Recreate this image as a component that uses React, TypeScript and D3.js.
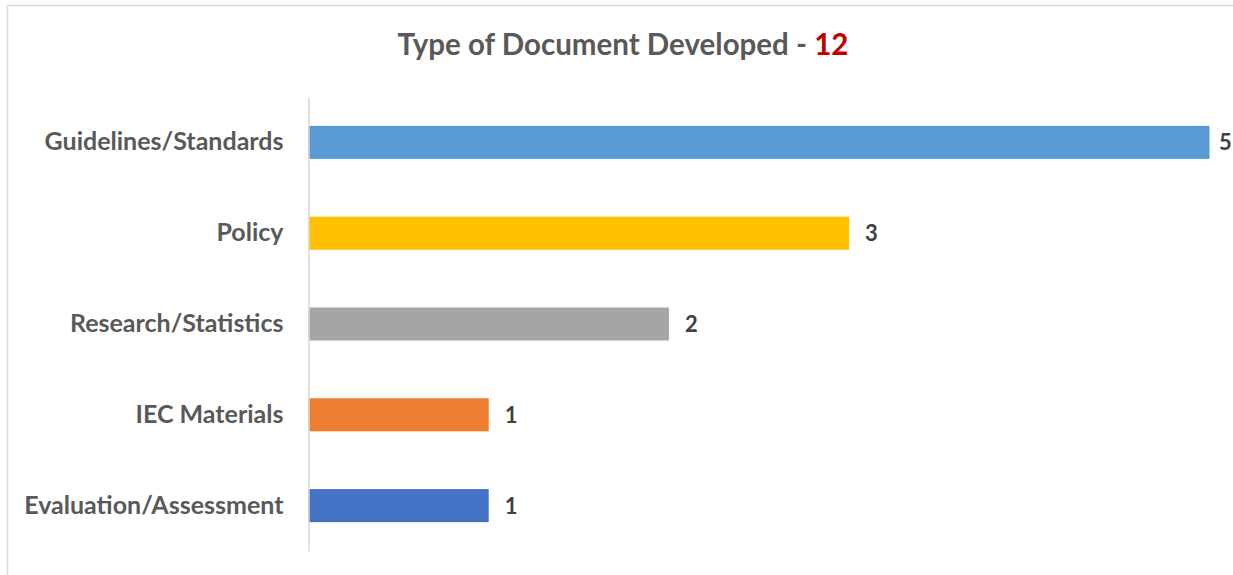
import React, { useEffect, useRef } from 'react';
import * as d3 from 'd3';

const categories = ['Guidelines/Standards', 'Policy', 'Research/Statistics', 'IEC Materials', 'Evaluation/Assessment'];
const counts = [5, 3, 2, 1, 1];
const barColors = ['#5B9BD5', '#FFC000', '#A5A5A5', '#ED7D31', '#4472C4'];
const titleText = 'Type of Document Developed - ';
const totalText = '12';

const WIDTH = 1233;
const HEIGHT = 575;

const App: React.FC = () => {
  const svgRef = useRef<SVGSVGElement>(null);

  useEffect(() => {
    if (!svgRef.current) return;
    const svg = d3.select(svgRef.current);
    svg.selectAll('*').remove();

    const font = 'Lato, "Open Sans", sans-serif';
    const margin = { top: 97, left: 308.5 };
    const plotBottom = 551;

    // chart frame (runs off the right and bottom edges)
    svg
      .append('rect')
      .attr('x', 7.5)
      .attr('y', 5.5)
      .attr('width', WIDTH)
      .attr('height', HEIGHT)
      .attr('fill', '#fff')
      .attr('stroke', '#D9D9D9')
      .attr('stroke-width', 1.5);

    const data = categories.map((name, i) => ({ name, value: counts[i], color: barColors[i] }));

    const x = d3.scaleLinear().domain([0, 5]).range([margin.left, margin.left + 901]);
    const y = d3
      .scaleBand()
      .domain(categories)
      .range([margin.top, plotBottom])
      .paddingInner(0.636)
      .paddingOuter(0.318);

    // title
    const title = svg
      .append('text')
      .attr('x', 623)
      .attr('y', 55)
      .attr('text-anchor', 'middle')
      .style('font-family', font)
      .style('font-weight', 'bold')
      .style('font-size', '29.5px');
    title.append('tspan').attr('fill', '#595959').text(titleText);
    title.append('tspan').attr('fill', '#C00000').text(totalText);

    // bars
    svg
      .selectAll('.bar')
      .data(data)
      .enter()
      .append('rect')
      .attr('x', x(0))
      .attr('y', (d) => y(d.name) as number)
      .attr('width', (d) => x(d.value) - x(0))
      .attr('height', y.bandwidth())
      .attr('fill', (d) => d.color);

    // category axis
    const axis = svg
      .append('g')
      .attr('transform', `translate(${margin.left},0)`)
      .call(d3.axisLeft(y).tickSize(0).tickPadding(25));
    axis.select('.domain').attr('stroke', '#D9D9D9').attr('stroke-width', 1.5);
    axis
      .selectAll('text')
      .attr('fill', '#595959')
      .style('font-family', font)
      .style('font-weight', 'bold')
      .style('font-size', '25px');

    // value labels (pulled in when they would run past the edge)
    svg
      .selectAll('.label')
      .data(data)
      .enter()
      .append('text')
      .attr('x', (d) => Math.min(x(d.value) + 16, WIDTH - 14))
      .attr('y', (d) => (y(d.name) as number) + y.bandwidth() / 2)
      .attr('dy', '0.36em')
      .attr('fill', '#404040')
      .style('font-family', font)
      .style('font-weight', 'bold')
      .style('font-size', '22px')
      .text((d) => d.value);
  }, []);

  return (
    <svg
      ref={svgRef}
      width={WIDTH}
      height={HEIGHT}
      style={{ position: 'absolute', left: 0, top: 0, display: 'block' }}
    />
  );
};

export default App;
